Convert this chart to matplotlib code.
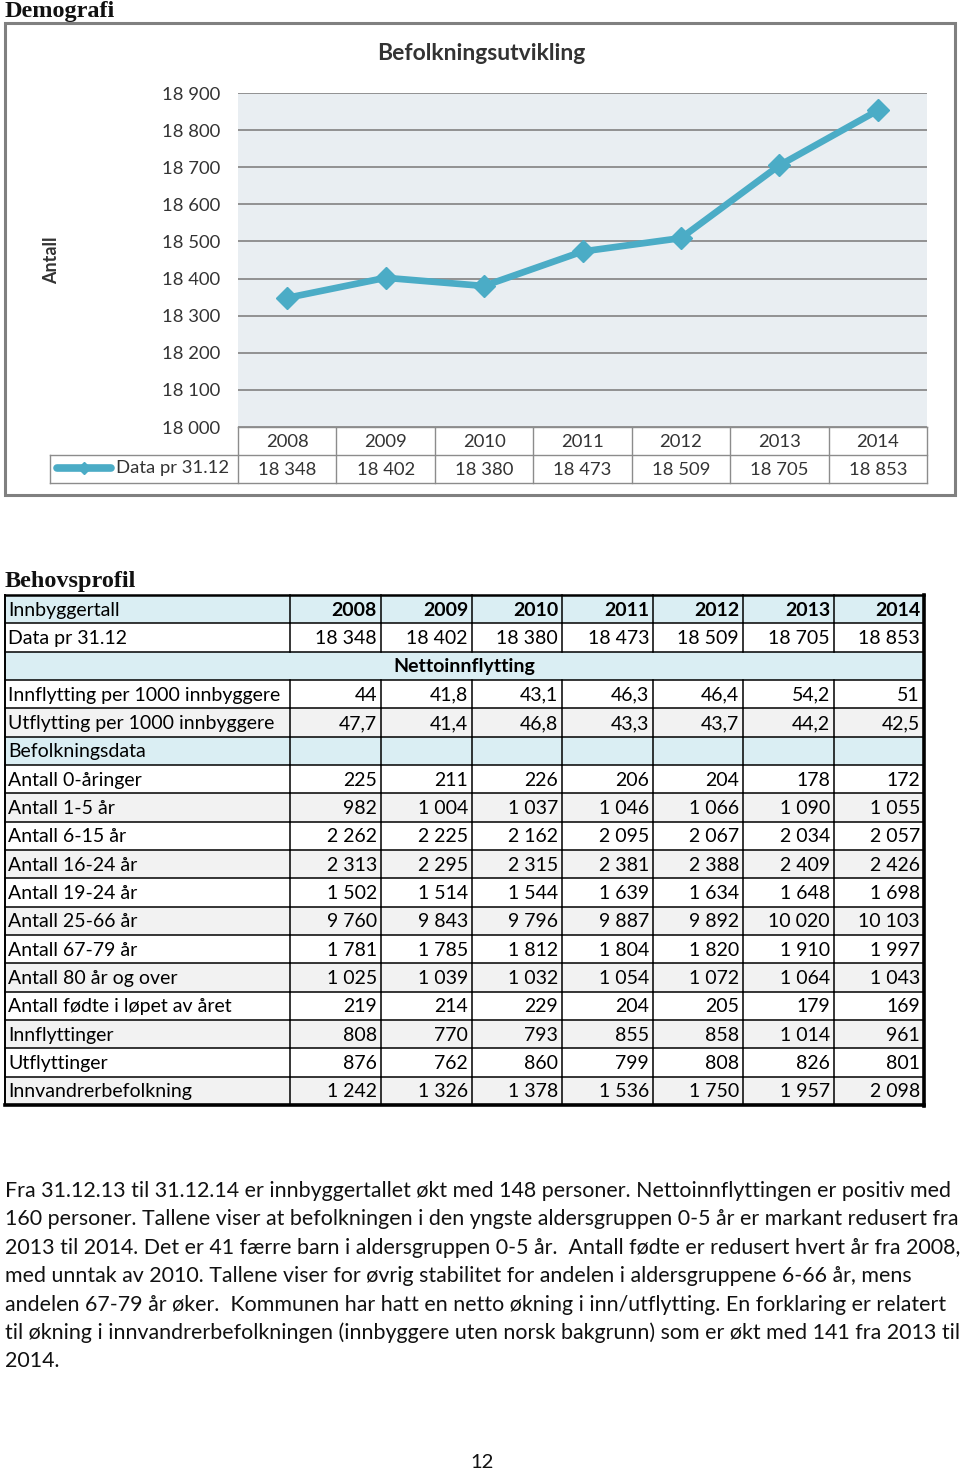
import matplotlib
matplotlib.use("Agg")
import matplotlib.pyplot as plt
from matplotlib.patches import Rectangle

# ---------------- data ----------------
years = [2008, 2009, 2010, 2011, 2012, 2013, 2014]
population = [18348, 18402, 18380, 18473, 18509, 18705, 18853]
y_ticks = [18000, 18100, 18200, 18300, 18400, 18500, 18600, 18700, 18800, 18900]

innflytting_per_1000 = [44, 41.8, 43.1, 46.3, 46.4, 54.2, 51]
utflytting_per_1000 = [47.7, 41.4, 46.8, 43.3, 43.7, 44.2, 42.5]
antall_0 = [225, 211, 226, 206, 204, 178, 172]
antall_1_5 = [982, 1004, 1037, 1046, 1066, 1090, 1055]
antall_6_15 = [2262, 2225, 2162, 2095, 2067, 2034, 2057]
antall_16_24 = [2313, 2295, 2315, 2381, 2388, 2409, 2426]
antall_19_24 = [1502, 1514, 1544, 1639, 1634, 1648, 1698]
antall_25_66 = [9760, 9843, 9796, 9887, 9892, 10020, 10103]
antall_67_79 = [1781, 1785, 1812, 1804, 1820, 1910, 1997]
antall_80 = [1025, 1039, 1032, 1054, 1072, 1064, 1043]
fodte = [219, 214, 229, 204, 205, 179, 169]
innflyttinger = [808, 770, 793, 855, 858, 1014, 961]
utflyttinger = [876, 762, 860, 799, 808, 826, 801]
innvandrer = [1242, 1326, 1378, 1536, 1750, 1957, 2098]

paragraph = [
    "Fra 31.12.13 til 31.12.14 er innbyggertallet økt med 148 personer. Nettoinnflyttingen er positiv med",
    "160 personer. Tallene viser at befolkningen i den yngste aldersgruppen 0-5 år er markant redusert fra",
    "2013 til 2014. Det er 41 færre barn i aldersgruppen 0-5 år.  Antall fødte er redusert hvert år fra 2008,",
    "med unntak av 2010. Tallene viser for øvrig stabilitet for andelen i aldersgruppene 6-66 år, mens",
    "andelen 67-79 år øker.  Kommunen har hatt en netto økning i inn/utflytting. En forklaring er relatert",
    "til økning i innvandrerbefolkningen (innbyggere uten norsk bakgrunn) som er økt med 141 fra 2013 til",
    "2014.",
]

# ---------------- helpers ----------------
SANS = ["Lato", "DejaVu Sans"]
SERIF = ["Liberation Serif", "DejaVu Serif"]
LINE_C = "#4bacc6"
CHART_TXT = "#333333"


def fmt(v, sep=" "):
    if isinstance(v, float):
        return str(v).replace(".", ",")
    s = f"{v:,}"
    return s.replace(",", sep)


W, H = 960, 1474
fig = plt.figure(figsize=(W / 100, H / 100), dpi=100)
page = fig.add_axes([0, 0, 1, 1])
page.set_xlim(0, W)
page.set_ylim(H, 0)
page.axis("off")

# ---------------- headings ----------------
page.text(5, 11, "Demografi", family=SERIF, fontweight="bold", fontsize=17.5,
          ha="left", va="center", color="#111111")

# chart frame
page.add_patch(Rectangle((5, 23), 950, 472, fill=False, ec="#808080", lw=2.2))

# ---------------- chart ----------------
PL, PR, PT, PB = 238, 927, 93, 427
ax = fig.add_axes([PL / W, 1 - PB / H, (PR - PL) / W, (PB - PT) / H])
ax.set_facecolor("#e9eef2")
ax.set_zorder(2)
ax.set_xlim(-0.5, len(years) - 0.5)
ax.set_ylim(y_ticks[0], y_ticks[-1])
ax.set_yticks(y_ticks)
ax.set_yticklabels([fmt(t) for t in y_ticks], family=SANS, fontsize=13.3,
                   color=CHART_TXT)
ax.tick_params(axis="y", length=0, pad=13)
ax.set_xticks([])
for s in ax.spines.values():
    s.set_visible(False)
ax.yaxis.grid(True, color="#8a8a8a", lw=1.3)
ax.set_axisbelow(True)
ax.plot(range(len(years)), population, color=LINE_C, lw=4.8, marker="D", ms=11,
        solid_joinstyle="round", clip_on=False, zorder=3)

page.text(481, 53, "Befolkningsutvikling", family=SANS, fontweight="bold",
          fontsize=16.5, ha="center", va="center", color=CHART_TXT)
page.text(52, 260, "Antall", family=SANS, fontweight="bold", fontsize=13,
          rotation=90, ha="center", va="center", color=CHART_TXT)

# chart data table
cw = (PR - PL) / len(years)
r1, r2, r3 = PB, 455, 483
grid_c = "#8c8c8c"
page.plot([PL, PR], [r1, r1], color=grid_c, lw=1)
page.plot([50, PR], [r2, r2], color=grid_c, lw=1)
page.plot([50, PR], [r3, r3], color=grid_c, lw=1)
page.plot([50, 50], [r2, r3], color=grid_c, lw=1)
for k in range(len(years) + 1):
    x = PL + k * cw
    page.plot([x, x], [r1, r3], color=grid_c, lw=1)
for i, (yr, v) in enumerate(zip(years, population)):
    xc = PL + (i + 0.5) * cw
    page.text(xc, (r1 + r2) / 2 + 1, str(yr), family=SANS, fontsize=13.3,
              ha="center", va="center", color=CHART_TXT)
    page.text(xc, (r2 + r3) / 2 + 1, fmt(v), family=SANS, fontsize=13.3,
              ha="center", va="center", color=CHART_TXT)
page.plot([57, 84, 111], [468, 468, 468], color=LINE_C, lw=5.5, marker="D",
          ms=6, markevery=[1], solid_capstyle="round")
page.text(116, 468, "Data pr 31.12", family=SANS, fontsize=13.3, ha="left",
          va="center", color=CHART_TXT)

# ---------------- Behovsprofil table ----------------
page.text(5, 581, "Behovsprofil", family=SERIF, fontweight="bold", fontsize=17.5,
          ha="left", va="center", color="#111111")

cols = [5, 290, 381, 472, 562, 653, 743, 834, 924]
T0 = 595
RH = (1105 - 595) / 18
BLUE = "#daeef3"
GRAY = "#f2f2f2"
WHITE = "#ffffff"

rows = [
    ("Innbyggertall", [str(y) for y in years], BLUE, "header"),
    ("Data pr 31.12", [fmt(v) for v in population], WHITE, "data"),
    ("Nettoinnflytting", None, BLUE, "merged"),
    ("Innflytting per 1000 innbyggere", [fmt(v) for v in innflytting_per_1000], WHITE, "data"),
    ("Utflytting per 1000 innbyggere", [fmt(v) for v in utflytting_per_1000], GRAY, "data"),
    ("Befolkningsdata", [""] * 7, BLUE, "data"),
    ("Antall 0-åringer", [fmt(v) for v in antall_0], WHITE, "data"),
    ("Antall 1-5 år", [fmt(v) for v in antall_1_5], GRAY, "data"),
    ("Antall 6-15 år", [fmt(v) for v in antall_6_15], WHITE, "data"),
    ("Antall 16-24 år", [fmt(v) for v in antall_16_24], GRAY, "data"),
    ("Antall 19-24 år", [fmt(v) for v in antall_19_24], WHITE, "data"),
    ("Antall 25-66 år", [fmt(v) for v in antall_25_66], GRAY, "data"),
    ("Antall 67-79 år", [fmt(v) for v in antall_67_79], WHITE, "data"),
    ("Antall 80 år og over", [fmt(v) for v in antall_80], GRAY, "data"),
    ("Antall fødte i løpet av året", [fmt(v) for v in fodte], WHITE, "data"),
    ("Innflyttinger", [fmt(v) for v in innflyttinger], GRAY, "data"),
    ("Utflyttinger", [fmt(v) for v in utflyttinger], WHITE, "data"),
    ("Innvandrerbefolkning", [fmt(v) for v in innvandrer], GRAY, "data"),
]

FS = 14
for i, (label, vals, bg, kind) in enumerate(rows):
    top = T0 + i * RH
    bot = top + RH
    yc = top + RH / 2 + 1
    page.add_patch(Rectangle((cols[0], top), cols[-1] - cols[0], RH, fc=bg,
                             ec="none", zorder=1))
    if kind == "merged":
        page.text((cols[0] + cols[-1]) / 2, yc, label, family=SANS,
                  fontweight="bold", fontsize=FS, ha="center", va="center",
                  zorder=3)
    else:
        page.text(cols[0] + 3, yc, label, family=SANS, fontsize=FS,
                  ha="left", va="center", zorder=3)
        for j, v in enumerate(vals):
            page.text(cols[j + 2] - 4, yc, v, family=SANS, fontsize=FS,
                      fontweight="bold" if kind == "header" else "normal",
                      ha="right", va="center", zorder=3)
        for x in cols[1:-1]:
            page.plot([x, x], [top, bot], color="black", lw=1.1, zorder=2)
    page.plot([cols[0], cols[-1]], [bot, bot], color="black", lw=1.1, zorder=2)

TB = T0 + len(rows) * RH
page.plot([cols[0], cols[-1]], [T0, T0], color="black", lw=1.8, zorder=2)
page.plot([cols[0], cols[0]], [T0, TB], color="black", lw=1.4, zorder=2)
page.plot([cols[-1], cols[-1]], [T0, TB + 1], color="black", lw=2.6, zorder=2)
page.plot([cols[0], cols[-1]], [TB, TB], color="black", lw=2.6, zorder=2)

# ---------------- paragraph ----------------
for k, line in enumerate(paragraph):
    page.text(5, 1191 + k * 28.4, line, family=SANS, fontsize=15.4,
              ha="left", va="center", color="#111111")

page.text(482, 1463, "12", family=SANS, fontsize=14.5, ha="center", va="center",
          color="#111111")

fig.savefig("out.png", dpi=100)
